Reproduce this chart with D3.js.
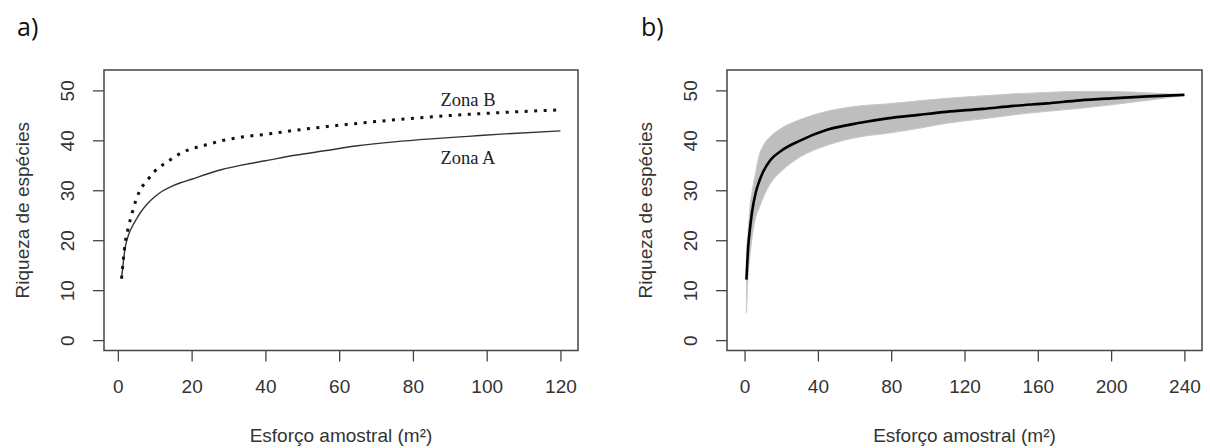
<!DOCTYPE html>
<html>
<head>
<meta charset="utf-8">
<script src="https://cdn.jsdelivr.net/npm/d3@7"></script>
<style>
  html, body { margin: 0; padding: 0; background: #fff; }
  svg { display: block; }
</style>
</head>
<body>
<svg id="chart" width="1210" height="448"></svg>
<script>
// Panel a: rarefaction curves per zone
const effortA = [1, 2, 3, 4, 5, 6, 8, 10, 12, 14, 17, 20, 24, 28, 34, 40, 48, 56, 65, 75, 85, 95, 105, 120];
const zonaA   = [12.3, 18.6, 21.3, 22.9, 24.2, 25.4, 27.3, 28.7, 29.8, 30.6, 31.5, 32.2, 33.2, 34.1, 35.1, 35.9, 37.0, 37.9, 38.9, 39.7, 40.3, 40.8, 41.3, 41.9];
const zonaB   = [12.3, 19.5, 23.0, 25.8, 28.2, 30.0, 32.0, 33.8, 35.0, 36.0, 37.4, 38.3, 39.1, 39.9, 40.7, 41.2, 42.0, 42.7, 43.4, 44.1, 44.7, 45.2, 45.6, 46.1];

// Panel b: pooled curve with its confidence band
const effortB = [1, 2, 3, 4, 6, 8, 10, 14, 20, 30, 45, 63, 78, 95, 110, 130, 147, 165, 183, 200, 220, 240];
const meanB   = [12.1, 18.8, 22.5, 25.5, 29.4, 31.8, 33.6, 36.0, 37.9, 39.9, 42.1, 43.5, 44.4, 45.1, 45.7, 46.3, 46.9, 47.4, 48.0, 48.4, 48.8, 49.1];
const upperB  = [18.0, 22.0, 27.0, 29.5, 33.5, 37.0, 38.8, 40.7, 42.4, 44.1, 45.8, 46.9, 47.3, 47.9, 48.4, 48.9, 49.3, 49.6, 49.8, 49.8, 49.5, 49.1];
const lowerB  = [5.5, 13.5, 17.2, 20.3, 24.5, 26.5, 28.4, 31.3, 33.8, 36.6, 39.0, 40.7, 41.4, 42.4, 43.4, 44.3, 45.1, 45.8, 46.4, 47.1, 48.0, 49.0];

const yTicks  = [0, 10, 20, 30, 40, 50];
const xTicksA = [0, 20, 40, 60, 80, 100, 120];
const xTicksB = [0, 40, 80, 120, 160, 200, 240];

const xTitle = "Esforço amostral (m²)";
const yTitle = "Riqueza de espécies";

const svg = d3.select("#chart");
const axisColor = "#444";
const textColor = "#333";
const sans = "'Liberation Sans', Arial, sans-serif";
const fs = 19;

// R-style 4% padding around a data range
function padded(lo, hi) {
  const p = (hi - lo) * 0.04;
  return [lo - p, hi + p];
}

function drawPanel(opts) {
  const { left, right, top, bottom, xDomain, xTicks, tag, tagX } = opts;
  const x = d3.scaleLinear().domain(padded(...xDomain)).range([left, right]);
  const y = d3.scaleLinear().domain(padded(0, 52)).range([bottom, top]);

  const g = svg.append("g");

  // panel tag
  g.append("text")
    .attr("x", tagX).attr("y", 36)
    .attr("font-family", "'Open Sans', sans-serif")
    .attr("font-size", 25)
    .attr("fill", "#111")
    .text(tag);

  // x axis
  const xa = g.append("g")
    .attr("transform", `translate(0,${bottom})`)
    .call(d3.axisBottom(x).tickValues(xTicks).tickSizeInner(11).tickSizeOuter(0).tickPadding(18).tickFormat(d3.format("d")));
  xa.select(".domain").remove();
  xa.selectAll(".tick line").attr("stroke", axisColor).attr("stroke-width", 1.3);
  xa.selectAll(".tick text")
    .attr("font-family", sans).attr("font-size", fs).attr("fill", textColor);

  // y axis with rotated labels
  const ya = g.append("g")
    .attr("transform", `translate(${left},0)`)
    .call(d3.axisLeft(y).tickValues(yTicks).tickSizeInner(11).tickSizeOuter(0).tickFormat(d3.format("d")));
  ya.select(".domain").remove();
  ya.selectAll(".tick line").attr("stroke", axisColor).attr("stroke-width", 1.3);
  ya.selectAll(".tick text")
    .attr("x", null).attr("dy", "0.35em")
    .attr("transform", "translate(-37,0) rotate(-90)")
    .attr("text-anchor", "middle")
    .attr("font-family", sans).attr("font-size", fs).attr("fill", textColor);

  // axis titles
  g.append("text")
    .attr("x", (left + right) / 2).attr("y", 442)
    .attr("text-anchor", "middle")
    .attr("font-family", sans).attr("font-size", fs).attr("fill", textColor)
    .text(xTitle);
  g.append("text")
    .attr("transform", `translate(${left - 75},${(top + bottom) / 2}) rotate(-90)`)
    .attr("text-anchor", "middle")
    .attr("font-family", sans).attr("font-size", fs).attr("fill", textColor)
    .text(yTitle);

  return { g, x, y, left, right, top, bottom };
}

function drawBox(p) {
  p.g.append("rect")
    .attr("x", p.left).attr("y", p.top)
    .attr("width", p.right - p.left).attr("height", p.bottom - p.top)
    .attr("fill", "none").attr("stroke", axisColor).attr("stroke-width", 1.5);
}

// ---- Panel a ----
const pa = drawPanel({ left: 104, right: 578, top: 70, bottom: 350.5, xDomain: [1, 120], xTicks: xTicksA, tag: "a)", tagX: 17 });
const lineA = d3.line().x((d, i) => pa.x(effortA[i])).y(d => pa.y(d)).curve(d3.curveMonotoneX);

pa.g.append("path").datum(zonaA)
  .attr("d", lineA).attr("fill", "none")
  .attr("stroke", "#333").attr("stroke-width", 1.4);
pa.g.append("path").datum(zonaB)
  .attr("d", lineA).attr("fill", "none")
  .attr("stroke", "#111").attr("stroke-width", 3)
  .attr("stroke-dasharray", "3,6.5");

pa.g.append("text")
  .attr("x", 468).attr("y", 106).attr("text-anchor", "middle")
  .attr("font-family", "'Liberation Serif', 'Times New Roman', serif")
  .attr("font-size", 18.5).attr("fill", "#222")
  .text("Zona B");
pa.g.append("text")
  .attr("x", 468).attr("y", 164).attr("text-anchor", "middle")
  .attr("font-family", "'Liberation Serif', 'Times New Roman', serif")
  .attr("font-size", 18.5).attr("fill", "#222")
  .text("Zona A");
drawBox(pa);

// ---- Panel b ----
const pb = drawPanel({ left: 727, right: 1202, top: 70, bottom: 350.5, xDomain: [0, 240], xTicks: xTicksB, tag: "b)", tagX: 641 });

const band = d3.area()
  .x((d, i) => pb.x(effortB[i]))
  .y0((d, i) => pb.y(lowerB[i]))
  .y1((d, i) => pb.y(upperB[i]))
  .curve(d3.curveMonotoneX);
pb.g.append("path").datum(meanB)
  .attr("d", band).attr("fill", "#bebebe")
  .attr("stroke", "#c8c8c8").attr("stroke-width", 1);

const lineB = d3.line().x((d, i) => pb.x(effortB[i])).y(d => pb.y(d)).curve(d3.curveMonotoneX);
pb.g.append("path").datum(meanB)
  .attr("d", lineB).attr("fill", "none")
  .attr("stroke", "#000").attr("stroke-width", 2.6);
drawBox(pb);
</script>
</body>
</html>
